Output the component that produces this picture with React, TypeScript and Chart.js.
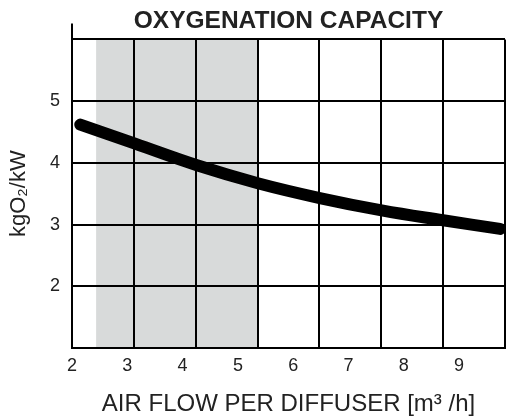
import React, { useEffect, useRef } from "react";
import { Chart, registerables } from "chart.js";

Chart.register(...registerables);

// Curve: air flow per diffuser [m3/h] vs oxygenation capacity [kgO2/kW]
const airFlow = [2.15, 3.14, 4.26, 5.36, 6.48, 7.6, 8.71, 9.74];
const capacity = [4.62, 4.31, 3.96, 3.67, 3.43, 3.23, 3.07, 2.93];

// Tick labels
const xTicks = [2, 3, 4, 5, 6, 7, 8, 9];
const yTicks = [1, 2, 3, 4, 5, 6];
const yLabels = [2, 3, 4, 5];

// Grid (square cells, independent of the label spacing)
const gridCols = [1, 2, 3, 4, 5, 6, 7];
// Shaded recommended range, in grid units
const bandStart = 0.39;
const bandEnd = 3;

const FONT = "'Liberation Sans', Arial, Helvetica, sans-serif";

const gridPlugin = {
  id: "customGrid",
  beforeDraw(chart: any) {
    const { ctx, chartArea, scales } = chart;
    const g = scales.grid;
    const x0 = g.getPixelForValue(bandStart);
    const x1 = g.getPixelForValue(bandEnd);
    ctx.save();
    ctx.fillStyle = "#d8dada";
    ctx.fillRect(x0, chartArea.top, x1 - x0, chartArea.bottom - chartArea.top);
    ctx.restore();
  },
  beforeDatasetsDraw(chart: any) {
    const { ctx, chartArea, scales } = chart;
    const g = scales.grid;
    const y = scales.y;
    ctx.save();
    ctx.strokeStyle = "#000";
    ctx.lineWidth = 2;
    ctx.beginPath();
    for (const c of gridCols) {
      const px = Math.round(g.getPixelForValue(c));
      ctx.moveTo(px, y.getPixelForValue(6));
      ctx.lineTo(px, y.getPixelForValue(1));
    }
    // axis extension above the plot
    ctx.moveTo(chartArea.left, chartArea.top);
    ctx.lineTo(chartArea.left, chartArea.top - 16);
    ctx.stroke();
    ctx.restore();
  },
};

export default function App() {
  const ref = useRef<HTMLCanvasElement>(null);

  useEffect(() => {
    if (!ref.current) return;
    const chart = new Chart(ref.current, {
      type: "line",
      data: {
        datasets: [
          {
            data: airFlow.map((x, i) => ({ x, y: capacity[i] })),
            borderColor: "#000",
            borderWidth: 12,
            borderCapStyle: "round",
            borderJoinStyle: "round",
            tension: 0.4,
            pointRadius: 0,
            fill: false,
            xAxisID: "x",
            yAxisID: "y",
          },
        ],
      },
      options: {
        responsive: false,
        animation: false,
        layout: { padding: { left: 0, right: 9, top: 0, bottom: 0 } },
        plugins: {
          legend: { display: false },
          tooltip: { enabled: false },
          title: {
            display: true,
            text: "OXYGENATION CAPACITY",
            fullSize: false,
            color: "#222",
            font: { family: FONT, size: 24.5, weight: "bold" },
            padding: { top: 7, bottom: 3 },
          },
        },
        scales: {
          x: {
            type: "linear",
            min: 2,
            max: 9.83,
            afterBuildTicks: (axis: any) => {
              axis.ticks = xTicks.map((v) => ({ value: v }));
            },
            afterFit: (scale: any) => {
              scale.height = 68;
            },
            grid: { display: false, drawTicks: false },
            border: { display: true, color: "#000", width: 2 },
            ticks: {
              color: "#222",
              font: { family: FONT, size: 18 },
              padding: 7,
              maxRotation: 0,
              autoSkip: false,
            },
            title: {
              display: true,
              text: "AIR FLOW PER DIFFUSER [m³ /h]",
              color: "#222",
              font: { family: FONT, size: 24, lineHeight: 1.0 },
              padding: { top: 0, bottom: 0 },
            },
          },
          grid: {
            type: "linear",
            display: false,
            position: "bottom",
            min: 0,
            max: 7,
          },
          y: {
            type: "linear",
            min: 1,
            max: 6,
            afterBuildTicks: (axis: any) => {
              axis.ticks = yTicks.map((v) => ({ value: v }));
            },
            afterFit: (scale: any) => {
              scale.width = 72;
            },
            grid: { color: "#000", lineWidth: 2, drawTicks: false },
            border: { display: true, color: "#000", width: 2 },
            ticks: {
              color: "#222",
              font: { family: FONT, size: 18 },
              padding: 12,
              callback: (v: any) => (yLabels.includes(Number(v)) ? String(v) : ""),
            },
            title: {
              display: true,
              text: "kgO₂/kW",
              color: "#222",
              font: { family: FONT, size: 22 },
              padding: { top: 6, bottom: 0 },
            },
          },
        },
      },
      plugins: [gridPlugin],
    } as any);
    return () => chart.destroy();
  }, []);

  return (
    <div style={{ position: "fixed", left: 0, top: 0, width: 514, height: 416, background: "#fff" }}>
      <canvas ref={ref} width={514} height={416} />
    </div>
  );
}
